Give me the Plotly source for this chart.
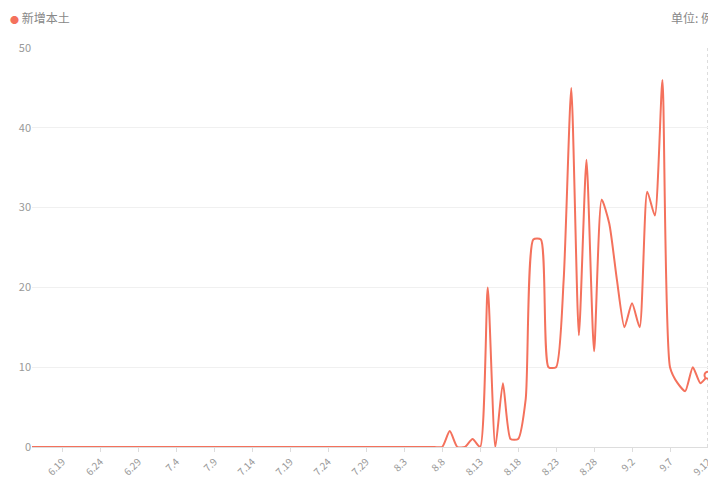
import plotly.graph_objects as go
import datetime as dt

start = dt.date(2022, 6, 15)
dates = [start + dt.timedelta(days=i) for i in range(90)]
labels = [f"{d.month}.{d.day}" for d in dates]

# Aug 8 .. Sep 12 values (earlier days are 0)
late = [0, 2, 0, 0, 1, 0, 20, 0, 8, 1, 1, 6, 26, 26, 10, 10, 21, 45, 14, 36, 12, 31, 28, 21,
        15, 18, 15, 32, 29, 46, 10, 8, 7, 10, 8, 9]
values = [0] * (90 - len(late)) + late

tick_labels = labels[4::5]
tick_idx = list(range(4, 90, 5))

fig = go.Figure()
fig.add_trace(go.Scatter(
    x=list(range(90)), y=values, mode="lines", name="新增本土",
    line=dict(color="#f4715c", width=2, shape="spline", smoothing=0.6),
    hoverinfo="skip", cliponaxis=False))
fig.add_trace(go.Scatter(
    x=[89], y=[values[-1]], mode="markers", showlegend=False, cliponaxis=False,
    marker=dict(size=7, color="white", line=dict(color="#f4715c", width=2))))
fig.add_shape(type="line", x0=89, x1=89, y0=0, y1=50, xref="x", yref="y",
              line=dict(color="#bbbbbb", width=1, dash="dot"), layer="below")

font = "Noto Sans CJK SC"
fig.update_layout(
    width=716, height=483, margin=dict(l=24, r=16, t=40, b=44),
    paper_bgcolor="white", plot_bgcolor="white",
    font=dict(family=font, size=11, color="#999"),
    showlegend=False,
    xaxis=dict(range=[0, 89], tickmode="array", tickvals=tick_idx, ticktext=tick_labels,
               tickangle=-45, showgrid=False, zeroline=False, showline=True, automargin=False,
               linecolor="#ddd", ticks="outside", ticklen=4, tickcolor="#ddd",
               tickfont=dict(size=10, color="#999")),
    yaxis=dict(range=[0, 50], dtick=10, showgrid=True, gridcolor="#f0f0f0", automargin=False,
               zeroline=False, tickfont=dict(size=11, color="#999")),
    annotations=[
        dict(x=0, y=1, xref="paper", yref="paper", xanchor="left", yanchor="bottom",
             xshift=-24, yshift=20, text="<span style='color:#f4715c;font-size:9px'>●</span> 新增本土",
             showarrow=False, font=dict(size=12, color="#888")),
        dict(x=1, y=1, xref="paper", yref="paper", xanchor="right", yanchor="bottom",
             xshift=7, yshift=20, text="单位: 例", showarrow=False,
             font=dict(size=12, color="#888")),
    ],
)
fig.write_html("out.html")
